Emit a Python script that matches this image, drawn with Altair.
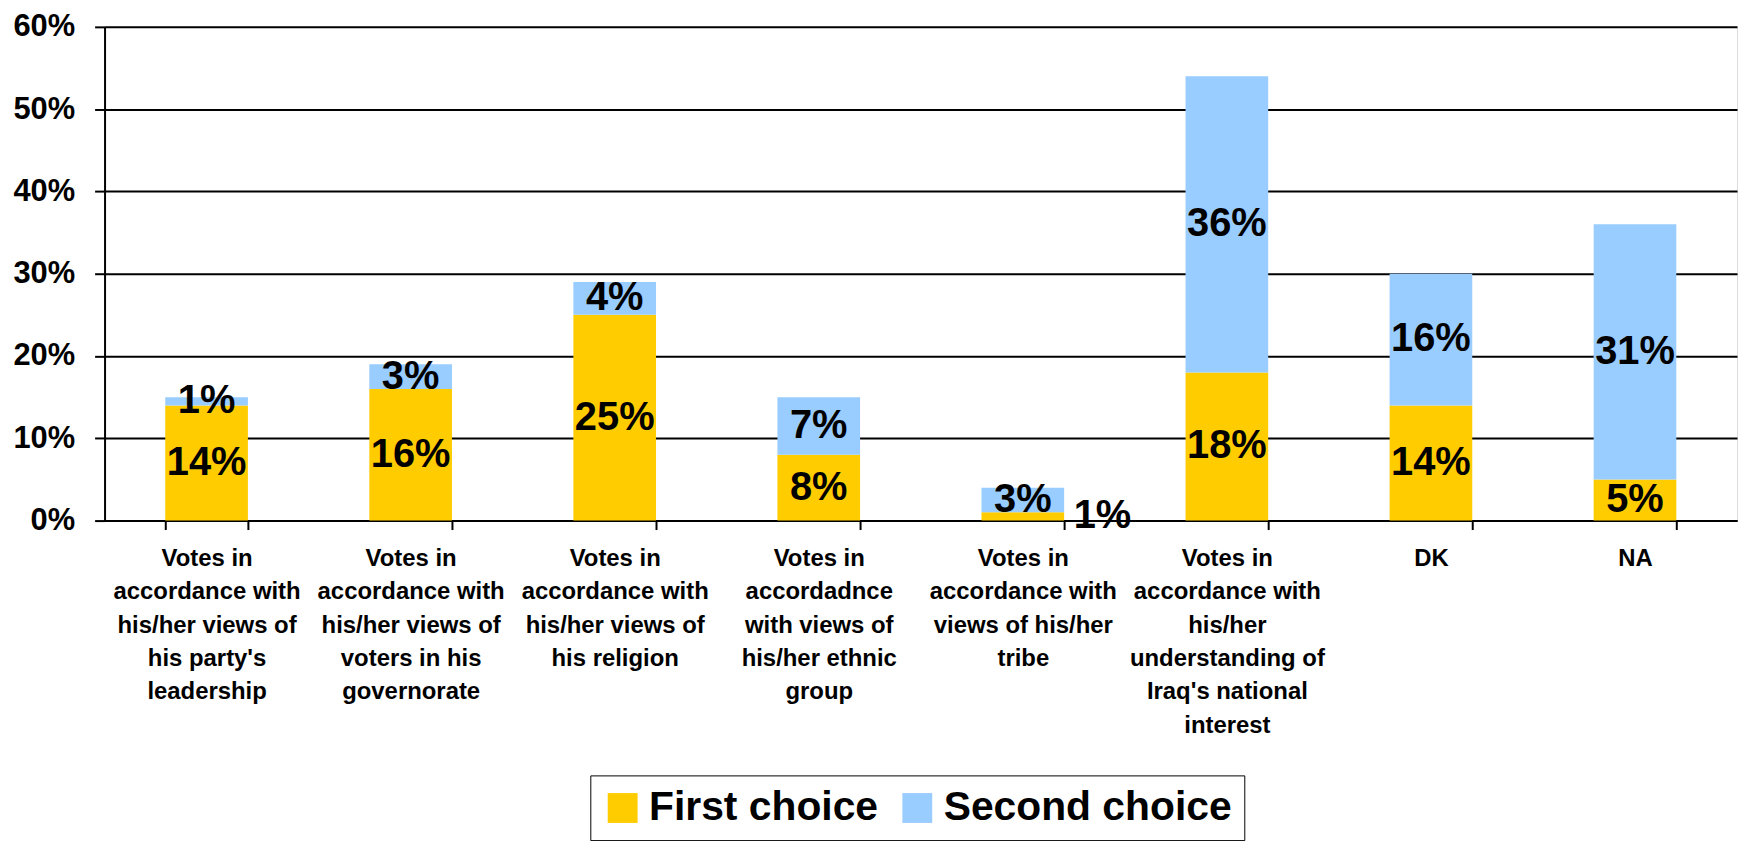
import altair as alt
import pandas as pd

categories = [
    "Votes in|accordance with|his/her views of|his party's|leadership",
    "Votes in|accordance with|his/her views of|voters in his|governorate",
    "Votes in|accordance with|his/her views of|his religion",
    "Votes in|accordadnce|with views of|his/her ethnic|group",
    "Votes in|accordance with|views of his/her|tribe",
    "Votes in|accordance with|his/her|understanding of|Iraq's national|interest",
    "DK",
    "NA",
]
first_choice = [0.14, 0.16, 0.25, 0.08, 0.01, 0.18, 0.14, 0.05]
second_choice = [0.01, 0.03, 0.04, 0.07, 0.03, 0.36, 0.16, 0.31]
series = ["First choice", "Second choice"]
colors = ["#FFCC00", "#99CCFF"]
y_ticks = [0, 0.1, 0.2, 0.3, 0.4, 0.5, 0.6]

rows = []
for i, c in enumerate(categories):
    rows.append({"cat": c, "series": series[0], "value": first_choice[i], "order": 0})
    rows.append({"cat": c, "series": series[1], "value": second_choice[i], "order": 1})
df = pd.DataFrame(rows)

FONT = "Liberation Sans"

base = (
    alt.Chart(df)
    .transform_stack(
        stack="value",
        groupby=["cat"],
        as_=["y0", "y1"],
        sort=[alt.SortField("order", order="ascending")],
    )
    .transform_calculate(mid="(datum.y0 + datum.y1) / 2")
)

x_enc = alt.X(
    "cat:N",
    sort=categories,
    scale=alt.Scale(paddingInner=0.595, paddingOuter=0.2975),
    axis=alt.Axis(
        title=None,
        labelExpr="split(datum.label, '|')",
        labelAngle=0,
        labelFont=FONT,
        labelFontSize=24,
        labelFontWeight="bold",
        labelLineHeight=33.5,
        labelColor="black",
        labelLimit=400,
        labelBaseline="top",
        labelPadding=17,
        tickBand="extent",
        tickSize=9,
        tickColor="black",
        tickWidth=2,
        domainColor="black",
        domainWidth=2,
        grid=False,
    ),
)

y_scale = alt.Scale(domain=[0, 0.6], nice=False)

bars = base.mark_bar().encode(
    x=x_enc,
    y=alt.Y(
        "y1:Q",
        scale=y_scale,
        axis=alt.Axis(
            title=None,
            format=".0%",
            values=y_ticks,
            labelFont=FONT,
            labelFontSize=31,
            labelFontWeight="bold",
            labelColor="black",
            labelPadding=20,
            tickSize=10,
            tickColor="black",
            tickWidth=2,
            domainColor="black",
            domainWidth=2,
            grid=True,
            gridColor="black",
            gridWidth=2,
            gridOpacity=1,
        ),
    ),
    y2="y0:Q",
    color=alt.Color(
        "series:N",
        scale=alt.Scale(domain=series, range=colors),
        legend=alt.Legend(
            title=None,
            orient="none",
            legendX=488,
            legendY=752,
            direction="horizontal",
            columns=2,
            symbolType="square",
            symbolSize=900,
            symbolStrokeWidth=0,
            symbolOpacity=1,
            labelFont=FONT,
            labelFontSize=41,
            labelFontWeight="bold",
            labelColor="black",
            labelOffset=6,
            columnPadding=18,
            padding=12,
            strokeColor="black",
            fillColor="white",
            labelLimit=500,
        ),
    ),
)

texts = base.transform_filter(
    "!(datum.series == 'First choice' && datum.value < 0.02)"
).mark_text(
    font=FONT, fontSize=40, fontWeight="bold", color="black", baseline="middle", align="center"
).encode(
    x=alt.X("cat:N", sort=categories),
    y=alt.Y("mid:Q", scale=y_scale),
    text=alt.Text("value:Q", format=".0%"),
)

outside = base.transform_filter(
    "datum.series == 'First choice' && datum.value < 0.02"
).mark_text(
    font=FONT, fontSize=40, fontWeight="bold", color="black", baseline="middle", align="center",
    dx=80, dy=0,
).encode(
    x=alt.X("cat:N", sort=categories),
    y=alt.Y("mid:Q", scale=y_scale),
    text=alt.Text("value:Q", format=".0%"),
)

chart = (
    alt.layer(bars, texts, outside)
    .properties(
        width=1640,
        height=496,
        autosize=alt.AutoSizeParams(type="none"),
        padding={"left": 97, "top": 17, "right": 3, "bottom": 330},
    )
    .configure_view(stroke="black", strokeWidth=2)
    .configure(font=FONT)
)

chart.save("out.html", embed_options={"renderer": "svg", "actions": False})
